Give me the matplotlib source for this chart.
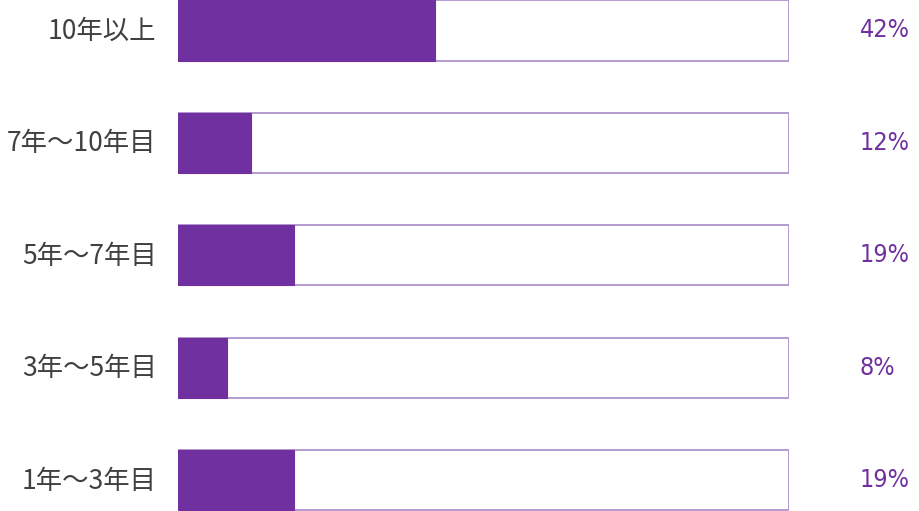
import matplotlib
matplotlib.use('Agg')
import matplotlib.pyplot as plt
from matplotlib import font_manager

# chart values, top to bottom
categories = ['10年以上', '7年～10年目', '5年～7年目', '3年～5年目', '1年～3年目']
shares = [42, 12, 19, 8, 19]
pct_labels = ['42%', '12%', '19%', '8%', '19%']

fill_color = '#7030A0'
edge_color = '#A98BC9'
label_color = '#404040'

# the percentages use a narrow face in the original, use one if installed
installed = {f.name for f in font_manager.fontManager.ttflist}
if 'Liberation Sans Narrow' in installed:
    pct_family = ['Liberation Sans Narrow', 'DejaVu Sans']
else:
    pct_family = ['DejaVu Sans']

fig = plt.figure(figsize=(9.2, 5.11), dpi=100)
ax = fig.add_axes([178 / 920, 0, 611 / 920, 1])

ypos = list(range(len(categories)))
# outline box = 100%
ax.barh(ypos, [100] * len(shares), height=0.535, left=0,
        color='white', edgecolor=edge_color, linewidth=1.2)
ax.barh(ypos, shares, height=0.535, left=0, color=fill_color,
        edgecolor=fill_color, linewidth=0.8)

ax.set_xlim(0, 100)
ax.set_ylim(4.276, -0.271)
ax.axis('off')

for y, cat, pct in zip(ypos, categories, pct_labels):
    ax.text(-3.5, y + 0.01, cat, ha='right', va='center', fontsize=19,
            color=label_color, family=['Noto Sans CJK JP', 'DejaVu Sans'])
    ax.text(111.6, y, pct, ha='left', va='center', fontsize=18,
            color=fill_color, family=pct_family, fontstretch='condensed')

fig.savefig('out.png', dpi=100)
